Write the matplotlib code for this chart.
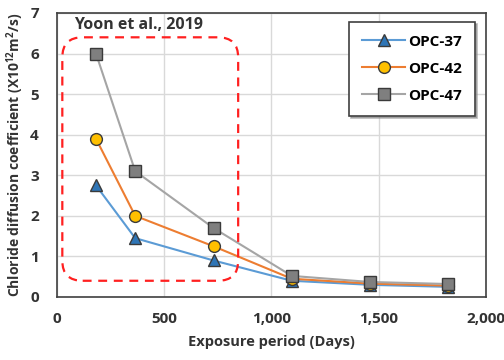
import matplotlib.pyplot as plt
from matplotlib.patches import FancyBboxPatch

plt.rcParams['font.family'] = ['Open Sans', 'DejaVu Sans']
plt.rcParams['mathtext.fontset'] = 'custom'
plt.rcParams['mathtext.bf'] = 'Open Sans:bold'
plt.rcParams['mathtext.rm'] = 'Open Sans'

days = [182, 365, 730, 1095, 1460, 1825]
opc37 = [2.75, 1.45, 0.9, 0.4, 0.3, 0.25]
opc42 = [3.9, 2.0, 1.25, 0.45, 0.33, 0.28]
opc47 = [6.0, 3.1, 1.7, 0.52, 0.37, 0.32]

fig = plt.figure(figsize=(5.04, 3.6), dpi=100)
ax = fig.add_axes([0.113, 0.175, 0.851, 0.789])

edge = '#3a3a3a'
ax.plot(days, opc37, color='#5B9BD5', lw=1.5, marker='^', ms=8.5,
        mfc='#2E75B6', mec=edge, mew=1, label='OPC-37', zorder=3)
ax.plot(days, opc42, color='#ED7D31', lw=1.5, marker='o', ms=8.5,
        mfc='#FFC000', mec=edge, mew=1, label='OPC-42', zorder=4)
ax.plot(days, opc47, color='#A5A5A5', lw=1.5, marker='s', ms=8.5,
        mfc='#7F7F7F', mec=edge, mew=1, label='OPC-47', zorder=5)

# dashed highlight around the early-age points
box = FancyBboxPatch((25, 0.4), 820, 6.0,
                     boxstyle='round,pad=0,rounding_size=95',
                     mutation_aspect=0.0052, fill=False, ec='#FF2020',
                     lw=1.6, ls=(0, (4, 3)), zorder=6)
ax.add_patch(box)

ax.set_xlim(0, 2000)
ax.set_ylim(0, 7)
ax.set_xticks([0, 500, 1000, 1500, 2000])
ax.set_xticklabels(['0', '500', '1,000', '1,500', '2,000'])
ax.set_yticks(range(8))
ax.grid(color='#D9D9D9', lw=1)
ax.set_axisbelow(True)
for s in ax.spines.values():
    s.set_color('#404040')
    s.set_linewidth(1.2)
ax.tick_params(length=0, labelsize=11, colors='#333333')
ax.tick_params(axis='x', pad=11)
ax.tick_params(axis='y', pad=13)
for lab in ax.get_xticklabels() + ax.get_yticklabels():
    lab.set_fontweight('bold')

ax.set_xlabel('Exposure period (Days)', fontsize=10.5, fontweight='bold',
              color='#333333', labelpad=6)
ax.set_ylabel('Chloride diffusion coefficient (X10$^{\\mathbf{12}}$m$^{\\mathbf{2}}$/s)',
              fontsize=10, fontweight='bold', color='#333333', labelpad=3)

ax.text(0.04, 0.985, 'Yoon et al., 2019', transform=ax.transAxes,
        fontsize=11.5, fontweight='bold', color='#333333', va='top', ha='left')

leg = ax.legend(loc='upper right', bbox_to_anchor=(0.985, 0.985),
                fancybox=False, framealpha=1,
                shadow={'ox': 1.5, 'oy': -1.5, 'color': '0.55', 'alpha': 0.6},
                edgecolor='#404040', prop={'weight': 'bold', 'size': 11},
                handlelength=2.8, handletextpad=0.2, labelspacing=0.85,
                borderpad=0.85, borderaxespad=0.3)
leg.get_frame().set_linewidth(1.2)

fig.savefig('out.png', dpi=100)
